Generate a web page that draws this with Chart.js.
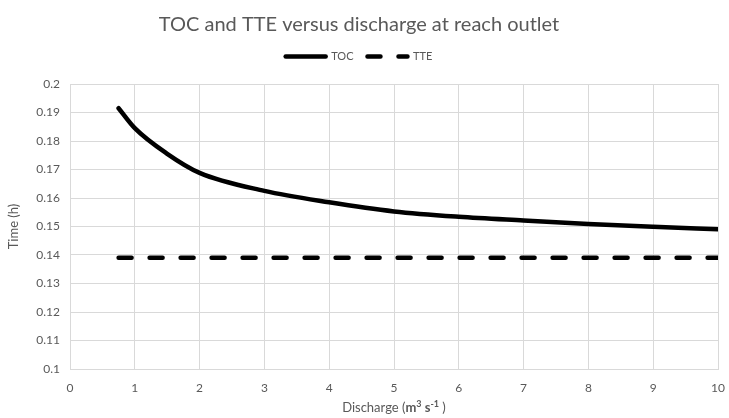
<!DOCTYPE html>
<html>
<head>
<meta charset="utf-8">
<script src="https://cdn.jsdelivr.net/npm/chart.js@4/dist/chart.umd.min.js"></script>
<style>
  html, body { margin: 0; padding: 0; background: #fff; }
  #wrap { width: 729px; height: 418px; position: relative; }
</style>
</head>
<body>
<div id="wrap"><canvas id="chart"></canvas></div>
<script>
// discharge values (m3/s) and times (h)
const discharge = [0.75, 1, 1.5, 2, 3, 4, 5, 6, 7, 8, 9, 10];
const tocValues = [0.1915, 0.1845, 0.1755, 0.1688, 0.1625, 0.1585, 0.1553, 0.1534, 0.1521, 0.1509, 0.1499, 0.1490];
const tteValues = [0.139, 0.139, 0.139, 0.139, 0.139, 0.139, 0.139, 0.139, 0.139, 0.139, 0.139, 0.139];
const seriesNames = ['TOC', 'TTE'];

const FONT = 'Lato, "Open Sans", sans-serif';
const GREY = '#595959';

const toPoints = (xs, ys) => xs.map((x, i) => ({ x: x, y: ys[i] }));

// a bit more room under the legend
const legendGap = {
  id: 'legendGap',
  beforeInit(chart) {
    const fit = chart.legend.fit;
    chart.legend.fit = function () {
      fit.call(this);
      this.height += 12;
    };
  }
};

// x axis title with bold unit part, drawn as text on the canvas
const xTitlePlugin = {
  id: 'xTitle',
  afterDraw(chart) {
    const ctx = chart.ctx;
    const area = chart.chartArea;
    const parts = [
      { t: 'Discharge (', f: '13px ' + FONT, dy: 0 },
      { t: 'm', f: 'bold 13px ' + FONT, dy: 0 },
      { t: '3', f: 'bold 9px ' + FONT, dy: -4 },
      { t: ' s', f: 'bold 13px ' + FONT, dy: 0 },
      { t: '-1', f: 'bold 9px ' + FONT, dy: -4 },
      { t: ' )', f: '13px ' + FONT, dy: 0 }
    ];
    ctx.save();
    let total = 0;
    parts.forEach(p => { ctx.font = p.f; p.w = ctx.measureText(p.t).width; total += p.w; });
    let x = (area.left + area.right) / 2 - total / 2;
    const y = 408;
    ctx.fillStyle = GREY;
    ctx.textBaseline = 'middle';
    ctx.textAlign = 'left';
    parts.forEach(p => {
      ctx.font = p.f;
      ctx.fillText(p.t, x, y + p.dy);
      x += p.w;
    });
    ctx.restore();
  }
};

new Chart(document.getElementById('chart'), {
  type: 'line',
  data: {
    datasets: [
      {
        label: seriesNames[0],
        data: toPoints(discharge, tocValues),
        borderColor: '#000',
        backgroundColor: '#000',
        borderWidth: 4.5,
        borderCapStyle: 'round',
        pointRadius: 0,
        pointStyle: 'line',
        cubicInterpolationMode: 'monotone'
      },
      {
        label: seriesNames[1],
        data: toPoints(discharge, tteValues),
        borderColor: '#000',
        backgroundColor: '#000',
        borderWidth: 4.5,
        borderDash: [13, 18],
        borderCapStyle: 'round',
        pointRadius: 0,
        pointStyle: 'line'
      }
    ]
  },
  options: {
    responsive: true,
    maintainAspectRatio: false,
    animation: false,
    layout: { padding: { left: 0, right: 11, top: 10, bottom: 0 } },
    plugins: {
      title: {
        display: true,
        text: 'TOC and TTE versus discharge at reach outlet',
        color: GREY,
        font: { family: FONT, size: 20, weight: 'normal' },
        padding: { top: 3, bottom: 0 }
      },
      legend: {
        position: 'top',
        labels: {
          usePointStyle: true,
          pointStyleWidth: 40,
          boxWidth: 40,
          boxHeight: 8,
          color: GREY,
          font: { family: FONT, size: 11 },
          padding: 14,
          generateLabels(chart) {
            return chart.data.datasets.map((ds, i) => ({
              text: ds.label,
              fillStyle: ds.borderColor,
              strokeStyle: ds.borderColor,
              fontColor: GREY,
              lineWidth: ds.borderWidth,
              lineDash: ds.borderDash || [],
              lineCap: 'round',
              pointStyle: 'line',
              hidden: false,
              datasetIndex: i
            }));
          }
        }
      },
      tooltip: { enabled: false }
    },
    scales: {
      x: {
        type: 'linear',
        min: 0,
        max: 10,
        ticks: { stepSize: 1, color: GREY, font: { family: FONT, size: 12 }, padding: 12 },
        grid: { color: '#d9d9d9', drawTicks: false },
        border: { color: '#d9d9d9' },
        afterFit(scale) {
          scale.height = 49;
          scale.paddingLeft = 0;
          scale.paddingRight = 0;
        }
      },
      y: {
        min: 0.1,
        max: 0.2,
        ticks: {
          stepSize: 0.01,
          color: GREY,
          font: { family: FONT, size: 12 },
          padding: 10,
          callback: v => String(+v.toFixed(2))
        },
        grid: { color: '#d9d9d9', drawTicks: false },
        border: { color: '#d9d9d9' },
        title: { display: true, text: 'Time (h)', color: GREY, font: { family: FONT, size: 13 }, padding: { top: 6, bottom: 4 } },
        afterFit(scale) {
          scale.width = 70;
          scale.paddingTop = 0;
          scale.paddingBottom = 0;
        }
      }
    }
  },
  plugins: [legendGap, xTitlePlugin]
});
</script>
</body>
</html>
